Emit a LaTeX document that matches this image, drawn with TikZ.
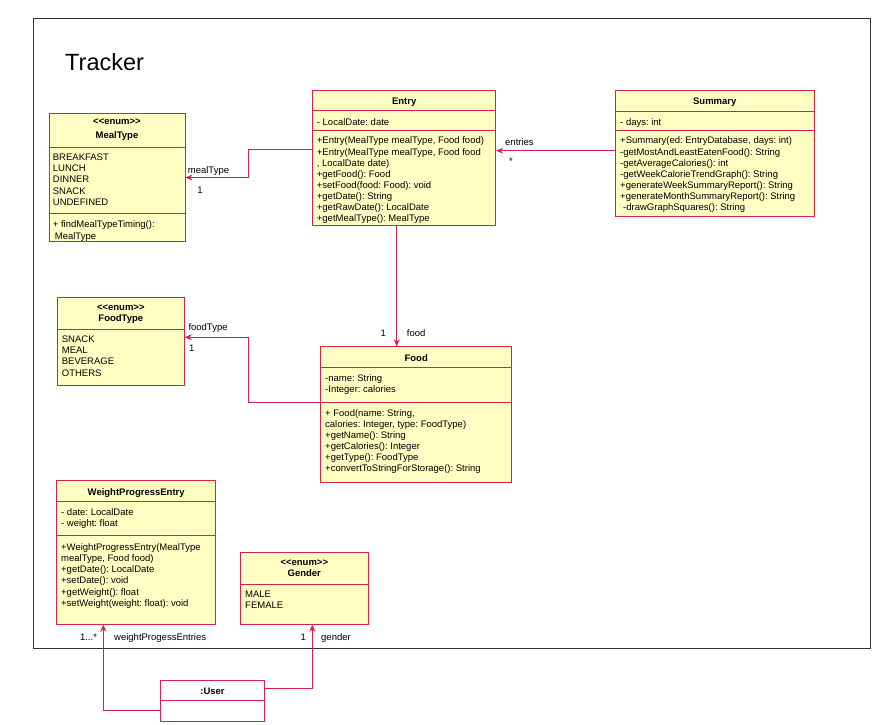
\documentclass[tikz,border=0pt]{standalone}
\usepackage{fontspec}
\setmainfont{Liberation Sans}
\usepackage{tikz}
\usetikzlibrary{arrows.meta,positioning,calc}
\definecolor{umlred}{RGB}{210,35,75}
\definecolor{umlfill}{RGB}{255,255,196}
\definecolor{framegray}{RGB}{50,50,50}
\frenchspacing

\begin{document}
\begin{tikzpicture}[
    x=1pt, y=-1pt,
    classbox/.style={draw=umlred, fill=umlfill, line width=0.8pt, inner sep=0pt},
    userbox/.style={draw=umlred, fill=white, line width=0.8pt, inner sep=0pt},
    divider/.style={draw=umlred, line width=0.8pt},
    classname/.style={anchor=north, align=center, inner sep=0pt, font=\fontsize{9.5}{11.1}\selectfont\bfseries, execute at begin node=\strut},
    member/.style={anchor=north west, align=left, inner sep=0pt, font=\fontsize{9.5}{11.1}\selectfont, execute at begin node=\strut},
    rolelabel/.style={inner sep=0pt, font=\fontsize{9.5}{11.1}\selectfont, text height=6.8pt, text depth=0pt},
    assoc/.style={draw=umlred, line width=0.8pt, -{Stealth[length=7pt,width=6pt]}}
]
\useasboundingbox (0,0) rectangle (884,724);

% Outer frame and title
\draw[framegray, line width=1pt] (33.3,18.3) rectangle (870.7,648.3);
\node[anchor=base west, inner sep=0pt, font=\fontsize{23.5}{28}\selectfont] (title) at (65,70) {Tracker};

% MealType
\node[classbox, minimum width=136pt, minimum height=128.4pt] (mealtype) at (117,177.5) {};
\draw[divider] ([yshift=-34pt]mealtype.north west) -- ([yshift=-34pt]mealtype.north east);
\draw[divider] ([yshift=-100pt]mealtype.north west) -- ([yshift=-100pt]mealtype.north east);
\node[classname] (mealtype-name) at (117,118.6) {<{}<enum>{}>\\[2.9pt]MealType};
\node[member] (mealtype-attr) at (52.7,153.9) {BREAKFAST\\LUNCH\\DINNER\\SNACK\\UNDEFINED};
\node[member] (mealtype-ops) at (52.7,220.9) {+ findMealTypeTiming():\\\hspace{2pt}MealType};

% Entry
\node[classbox, minimum width=183pt, minimum height=135.7pt] (entry) at (404.2,157.85) {};
\draw[divider] ([yshift=-21pt]entry.north west) -- ([yshift=-21pt]entry.north east);
\draw[divider] ([yshift=-40.7pt]entry.north west) -- ([yshift=-40.7pt]entry.north east);
\node[classname] (entry-name) at (404.2,96.6) {Entry};
\node[member] (entry-attr) at (316.7,117.6) {- LocalDate: date};
\node[member] (entry-ops) at (316.7,136.9) {+Entry(MealType mealType, Food food)\\+Entry(MealType mealType, Food food\\, LocalDate date)\\+getFood(): Food\\+setFood(food: Food): void\\+getDate(): String\\+getRawDate(): LocalDate\\+getMealType(): MealType};

% Summary
\node[classbox, minimum width=199pt, minimum height=126.7pt] (summary) at (714.8,153.35) {};
\draw[divider] ([yshift=-21.7pt]summary.north west) -- ([yshift=-21.7pt]summary.north east);
\draw[divider] ([yshift=-40.7pt]summary.north west) -- ([yshift=-40.7pt]summary.north east);
\node[classname] (summary-name) at (714.8,96.6) {Summary};
\node[member] (summary-attr) at (620,117.6) {- days: int};
\node[member] (summary-ops) at (620,136.9) {+Summary(ed: EntryDatabase, days: int)\\-getMostAndLeastEatenFood(): String\\-getAverageCalories(): int\\-getWeekCalorieTrendGraph(): String\\+generateWeekSummaryReport(): String\\+generateMonthSummaryReport(): String\\\hspace{3pt}-drawGraphSquares(): String};

% FoodType
\node[classbox, minimum width=127pt, minimum height=87.7pt] (foodtype) at (120.8,341.15) {};
\draw[divider] ([yshift=-32pt]foodtype.north west) -- ([yshift=-32pt]foodtype.north east);
\node[classname] (foodtype-name) at (120.8,304.2) {<{}<enum>{}>\\FoodType};
\node[member] (foodtype-attr) at (61.7,335.9) {SNACK\\MEAL\\BEVERAGE\\OTHERS};

% Food
\node[classbox, minimum width=191pt, minimum height=135.6pt] (food) at (416.2,414.5) {};
\draw[divider] ([yshift=-21pt]food.north west) -- ([yshift=-21pt]food.north east);
\draw[divider] ([yshift=-56pt]food.north west) -- ([yshift=-56pt]food.north east);
\node[classname] (food-name) at (416.2,353.6) {Food};
\node[member] (food-attr) at (325,374.2) {-name: String\\-Integer: calories};
\node[member] (food-ops) at (325,409.2) {+ Food(name: String,\\calories: Integer, type: FoodType)\\+getName(): String\\+getCalories(): Integer\\+getType(): FoodType\\+convertToStringForStorage(): String};

% WeightProgressEntry
\node[classbox, minimum width=159pt, minimum height=143.6pt] (wpe) at (136.2,552.5) {};
\draw[divider] ([yshift=-21pt]wpe.north west) -- ([yshift=-21pt]wpe.north east);
\draw[divider] ([yshift=-55.3pt]wpe.north west) -- ([yshift=-55.3pt]wpe.north east);
\node[classname] (wpe-name) at (136.2,487.6) {WeightProgressEntry};
\node[member] (wpe-attr) at (61,508.2) {- date: LocalDate\\- weight: float};
\node[member] (wpe-ops) at (61,543.6) {+WeightProgressEntry(MealType\\mealType, Food food)\\+getDate(): LocalDate\\+setDate(): void\\+getWeight(): float\\+setWeight(weight: float): void};

% Gender
\node[classbox, minimum width=128pt, minimum height=72pt] (gender) at (304.3,588.3) {};
\draw[divider] ([yshift=-32pt]gender.north west) -- ([yshift=-32pt]gender.north east);
\node[classname] (gender-name) at (304.3,559.2) {<{}<enum>{}>\\Gender};
\node[member] (gender-attr) at (245,590.9) {MALE\\FEMALE};

% :User
\node[userbox, minimum width=103.6pt, minimum height=41pt] (user) at (212.5,700.5) {};
\draw[divider] ([yshift=-20.7pt]user.north west) -- ([yshift=-20.7pt]user.north east);
\node[classname] (user-name) at (212.5,686.4) {:User};

% Associations
\draw[assoc] ([yshift=8.2pt]entry.west) -- ++(-64.4,0) |- (mealtype.east);
\node[rolelabel, anchor=west] (mealtype-role) at (187.7,170) {mealType};
\node[rolelabel] (mealtype-mult) at (200,190) {1};

\draw[assoc] ([yshift=2.7pt]summary.west) -- ([yshift=7.2pt]entry.east);
\node[rolelabel, anchor=west] (entries-role) at (505,142.3) {entries};
\node[rolelabel] (entries-mult) at (511,161) {*};

\draw[assoc] ([xshift=-7.5pt]entry.south) -- ([xshift=-7.5pt]entry.south |- food.north);
\node[rolelabel] (food-mult) at (383.3,333.3) {1};
\node[rolelabel, anchor=west] (food-role) at (406.7,333.3) {food};

\draw[assoc] ([yshift=11.8pt]food.west) -- ++(-72.4,0) |- ([yshift=3.9pt]foodtype.east);
\node[rolelabel, anchor=west] (foodtype-role) at (188.3,327.3) {foodType};
\node[rolelabel] (foodtype-mult) at (191.7,347.7) {1};

\draw[assoc] ([yshift=-10.2pt]user.west) -| ([xshift=-32.9pt]wpe.south);
\node[rolelabel] (wpe-mult) at (88.5,636.7) {1...*};
\node[rolelabel, anchor=west] (wpe-role) at (114,636.7) {weightProgessEntries};

\draw[assoc] ([yshift=12.2pt]user.east) -| ([xshift=8pt]gender.south);
\node[rolelabel] (gender-mult) at (303.3,636.7) {1};
\node[rolelabel, anchor=west] (gender-role) at (321,636.7) {gender};
\end{tikzpicture}
\end{document}
